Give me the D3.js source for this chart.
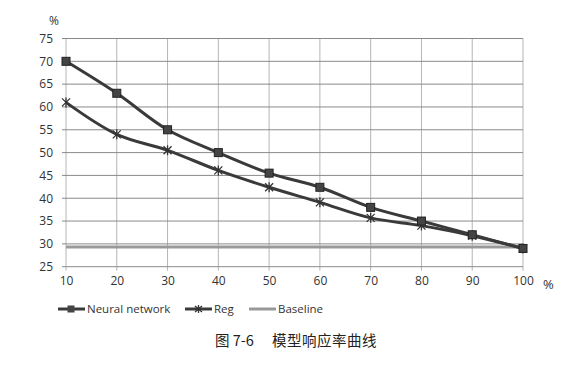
<!DOCTYPE html>
<html><head><meta charset="utf-8">
<script src="https://cdn.jsdelivr.net/npm/d3@7"></script>
<style>body{margin:0;background:#fff;} svg{display:block;}</style>
</head><body>
<script>
const categories = [10,20,30,40,50,60,70,80,90,100];
const neuralNetwork = [70,63,55,50,45.5,42.4,38,35,32,29];
const reg = [61,54,50.5,46.1,42.4,39.1,35.7,34,31.8,29];
const baseline = [29.3,29.3,29.3,29.3,29.3,29.3,29.3,29.3,29.3,29.3];
const yTicks = [25,30,35,40,45,50,55,60,65,70,75];
const seriesNames = ["Neural network","Reg","Baseline"];

const W=583,H=366;
const svg=d3.select("body").append("svg").attr("width",W).attr("height",H);
const x=d3.scaleLinear().domain([10,100]).range([66,523]);
const y=d3.scaleLinear().domain([25,75]).range([266.7,38.5]);
const font="'Open Sans', 'DejaVu Sans', sans-serif";

// gridlines
svg.append("g").selectAll("line").data(categories).join("line")
  .attr("x1",d=>x(d)).attr("x2",d=>x(d)).attr("y1",y(75)).attr("y2",y(25)+4)
  .attr("stroke","#b5b5b5").attr("stroke-width",1);
svg.append("g").selectAll("line").data(yTicks).join("line")
  .attr("x1",x(10)-4).attr("x2",x(100)).attr("y1",d=>y(d)).attr("y2",d=>y(d))
  .attr("stroke","#8a8a8a").attr("stroke-width",1);

// axes labels
const yAxis=d3.axisLeft(y).tickValues(yTicks).tickSize(0).tickPadding(13);
const gy=svg.append("g").attr("transform",`translate(${x(10)},0)`).call(yAxis);
gy.select(".domain").remove();
gy.selectAll("text").attr("font-family",font).attr("font-size",12).attr("fill","#333");
const xAxis=d3.axisBottom(x).tickValues(categories).tickSize(0).tickPadding(10);
const gx=svg.append("g").attr("transform",`translate(0,${y(25)})`).call(xAxis);
gx.select(".domain").remove();
gx.selectAll("text").attr("font-family",font).attr("font-size",12).attr("fill","#333");

svg.append("text").attr("x",49).attr("y",25).text("%").attr("font-family",font).attr("font-size",12).attr("fill","#333");
svg.append("text").attr("x",543).attr("y",289).text("%").attr("font-family",font).attr("font-size",13).attr("fill","#333");

const line=d3.line().x((d,i)=>x(categories[i])).y(d=>y(d)).curve(d3.curveCatmullRom.alpha(0.5));

svg.append("path").datum(baseline).attr("d",line).attr("fill","none").attr("stroke","#999").attr("stroke-width",3);
svg.append("path").datum(reg).attr("d",line).attr("fill","none").attr("stroke","#3a3a3a").attr("stroke-width",3);
svg.append("path").datum(neuralNetwork).attr("d",line).attr("fill","none").attr("stroke","#3a3a3a").attr("stroke-width",3);

const rm=svg.append("g").selectAll("g").data(reg).join("g")
  .attr("transform",(d,i)=>`translate(${x(categories[i])},${y(d)})`);
rm.append("path").attr("d","M-4,-4L4,4M-4,4L4,-4M0,-5V5").attr("stroke","#333").attr("stroke-width",1.3);
svg.append("g").selectAll("rect").data(neuralNetwork).join("rect")
  .attr("x",(d,i)=>x(categories[i])-4).attr("y",d=>y(d)-4).attr("width",8).attr("height",8)
  .attr("fill","#444").attr("stroke","#222").attr("stroke-width",1);

// legend
const lg=svg.append("g");
const items=[{n:seriesNames[0],x:58,c:"#3a3a3a",m:"sq"},{n:seriesNames[1],x:185,c:"#3a3a3a",m:"x"},{n:seriesNames[2],x:249,c:"#999",m:""}];
items.forEach(it=>{
  const g=lg.append("g").attr("transform",`translate(${it.x},309)`);
  g.append("line").attr("x1",0).attr("x2",27).attr("stroke",it.c).attr("stroke-width",3);
  if(it.m==="sq") g.append("rect").attr("x",9.5).attr("y",-3.5).attr("width",7).attr("height",7).attr("fill","#444");
  if(it.m==="x") g.append("path").attr("d","M10,-3L17,3M10,3L17,-3M13.5,-4V4").attr("stroke","#333").attr("stroke-width",1.3);
  g.append("text").attr("x",29).attr("y",4).text(it.n).attr("font-family",font).attr("font-size",11.5).attr("fill","#333");
});

// caption
const cf="'Noto Sans CJK SC', sans-serif";
svg.append("text").attr("x",215).attr("y",346).text("图 7-6")
  .attr("font-family",cf).attr("font-size",14.5).attr("fill","#222");
svg.append("text").attr("x",272).attr("y",346).text("模型响应率曲线")
  .attr("font-family",cf).attr("font-size",14.5).attr("letter-spacing",0.5).attr("fill","#222");
</script>
</body></html>
